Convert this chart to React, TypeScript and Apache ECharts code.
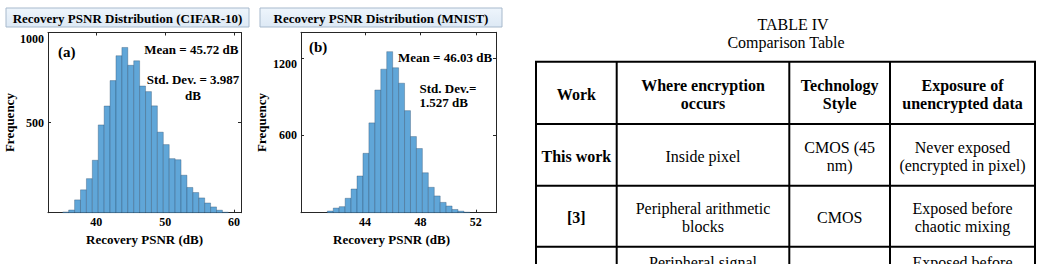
import React, { useEffect, useRef } from "react";
import * as echarts from "echarts";

// ---------- data ----------
const cifarTitle = "Recovery PSNR Distribution (CIFAR-10)";
const mnistTitle = "Recovery PSNR Distribution (MNIST)";
const xAxisName = "Recovery PSNR (dB)";
const yAxisName = "Frequency";

const cifarBinStart = 35.14;
const cifarBinWidth = 0.858;
const cifarCounts = [4, 15, 71, 127, 189, 291, 487, 592, 733, 871, 917, 818, 843, 703, 672, 593, 447, 378, 300, 294, 208, 140, 112, 82, 54, 32, 14, 3];
const cifarXTicks = [40, 50, 60];
const cifarYTicks = [500, 1000];
const cifarXRange = [33, 61];
const cifarYRange = [0, 1000];
const cifarNotes = ["(a)", "Mean = 45.72 dB", "Std. Dev. = 3.987\ndB"];

const mnistBinStart = 41.28;
const mnistBinWidth = 0.429;
const mnistCounts = [13, 36, 47, 112, 184, 285, 461, 697, 952, 1114, 1250, 1125, 1005, 792, 591, 498, 310, 197, 130, 80, 52, 25, 12, 4];
const mnistXTicks = [44, 48, 52];
const mnistYTicks = [600, 1200];
const mnistXRange = [39.38, 53.46];
const mnistYRange = [0, 1400];
const mnistNotes = ["(b)", "Mean = 46.03 dB", "Std. Dev.=\n1.527 dB"];

const tableTitle = ["TABLE IV", "Comparison Table"];
const tableHeader = ["Work", "Where encryption\noccurs", "Technology\nStyle", "Exposure of\nunencrypted data"];
const tableRows = [
  ["This work", "Inside pixel", "CMOS (45\nnm)", "Never exposed\n(encrypted in pixel)"],
  ["[3]", "Peripheral arithmetic\nblocks", "CMOS", "Exposed before\nchaotic mixing"],
];
const tablePartialRow = ["", "Peripheral signal", "", "Exposed before"];

// ---------- styles ----------
const FONT = "Liberation Serif";
const AXIS = "#262626";
const BAR_FILL = "rgb(96,166,216)";
const BAR_EDGE = "rgba(35,65,95,0.55)";

function bins(start: number, width: number, counts: number[]) {
  return counts.map((c, i) => [start + i * width, start + (i + 1) * width, c]);
}

function renderBar(_params: any, api: any) {
  const p0 = api.coord([api.value(0), api.value(2)]);
  const p1 = api.coord([api.value(1), 0]);
  return {
    type: "rect",
    shape: { x: p0[0], y: p0[1], width: p1[0] - p0[0], height: p1[1] - p0[1] },
    style: { fill: BAR_FILL, stroke: BAR_EDGE, lineWidth: 0.6 },
  };
}

const labelStyle = { fontFamily: FONT, fontSize: 12, fontWeight: "bold", color: "#000" };
const nameStyle = { fontFamily: FONT, fontSize: 13, fontWeight: "bold", color: "#000" };
const plain = (v: number) => String(v);

function xAxes(grid: number, range: number[], ticks: number[], namePad: number[]) {
  const line = { show: true, onZero: false, lineStyle: { color: AXIS, width: 1 } };
  return [
    {
      type: "value", gridIndex: grid, position: "bottom", min: range[0], max: range[1],
      splitLine: { show: false }, axisLine: line,
      axisTick: { show: true, inside: true, length: 3, customValues: ticks, lineStyle: { color: AXIS } },
      axisLabel: { ...labelStyle, margin: 3, customValues: ticks, formatter: plain },
      name: xAxisName, nameLocation: "middle", nameGap: 20,
      nameTextStyle: { ...nameStyle, padding: namePad },
    },
    {
      type: "value", gridIndex: grid, position: "top", min: range[0], max: range[1],
      splitLine: { show: false }, axisLine: line,
      axisTick: { show: true, inside: true, length: 3, customValues: ticks, lineStyle: { color: AXIS } },
      axisLabel: { show: false },
    },
  ];
}

function yAxes(grid: number, range: number[], ticks: number[], gap: number) {
  const line = { show: true, onZero: false, lineStyle: { color: AXIS, width: 1 } };
  return [
    {
      type: "value", gridIndex: grid, position: "left", min: range[0], max: range[1],
      splitLine: { show: false }, axisLine: line,
      axisTick: { show: true, inside: true, length: 3, customValues: ticks, lineStyle: { color: AXIS } },
      axisLabel: { ...labelStyle, margin: 4, customValues: ticks, formatter: plain, verticalAlignMaxLabel: "top" },
      name: yAxisName, nameLocation: "middle", nameGap: gap, nameRotate: 90,
      nameTextStyle: nameStyle,
    },
    {
      type: "value", gridIndex: grid, position: "right", min: range[0], max: range[1],
      splitLine: { show: false }, axisLine: line,
      axisTick: { show: true, inside: true, length: 3, customValues: ticks, lineStyle: { color: AXIS } },
      axisLabel: { show: false },
    },
  ];
}

function txt(x: number, y: number, text: string, o: any = {}) {
  return {
    type: "text", x, y, silent: true,
    style: {
      text, fontFamily: FONT, fontSize: o.size ?? 13, fontWeight: o.weight ?? "bold",
      fill: "#000", align: o.align ?? "left", verticalAlign: "middle", lineHeight: o.lh ?? 16,
    },
  };
}

function titleBox(x: number, w: number, text: string) {
  return [
    {
      type: "rect", shape: { x, y: 8, width: w, height: 19 }, silent: true,
      style: {
        fill: new echarts.graphic.LinearGradient(0, 0, 0, 1, [
          { offset: 0, color: "#eef5fc" },
          { offset: 1, color: "#dde9f5" },
        ]),
        stroke: "#a7b9cc", lineWidth: 1,
      },
    },
    txt(x + w / 2, 18, text, { align: "center" }),
  ];
}

function tableGraphics() {
  const cols = [536, 616.7, 789.3, 890, 1035];
  const rows = [61.7, 124, 185.7, 246.7];
  const els: any[] = [];
  const cx = (i: number) => (cols[i] + cols[i + 1]) / 2;
  els.push(txt(793, 24, tableTitle[0], { weight: "normal", size: 16, align: "center" }));
  els.push(txt(786, 42.5, tableTitle[1], { weight: "normal", size: 16, align: "center" }));
  tableHeader.forEach((t, i) => {
    els.push(txt(cx(i), (rows[0] + rows[1]) / 2 + 1.3, t, { size: 16, align: "center", lh: 18 }));
  });
  tableRows.forEach((r, ri) => {
    r.forEach((t, i) => {
      els.push(txt(cx(i), (rows[ri + 1] + rows[ri + 2]) / 2 + 1.3, t, {
        size: 16, align: "center", lh: 18, weight: i === 0 ? "bold" : "normal",
      }));
    });
  });
  tablePartialRow.forEach((t, i) => {
    if (t) els.push(txt(cx(i), 262, t, { size: 16, align: "center", weight: "normal" }));
  });
  rows.forEach((y) => {
    els.push({ type: "line", silent: true, shape: { x1: cols[0] - 1, y1: y, x2: cols[4] + 1, y2: y }, style: { stroke: "#000", lineWidth: 2 } });
  });
  cols.forEach((x) => {
    els.push({ type: "line", silent: true, shape: { x1: x, y1: rows[0], x2: x, y2: 270 }, style: { stroke: "#000", lineWidth: 2 } });
  });
  return els;
}

export default function App() {
  const ref = useRef<HTMLDivElement>(null);
  useEffect(() => {
    if (!ref.current) return;
    const chart = echarts.init(ref.current, undefined, { renderer: "svg" });
    const option: any = {
      animation: false,
      backgroundColor: "#ffffff",
      textStyle: { fontFamily: FONT },
      grid: [
        { left: 48, top: 32.5, width: 193, height: 180.2 },
        { left: 301, top: 32.3, width: 195, height: 180.4 },
      ],
      xAxis: [
        ...xAxes(0, cifarXRange, cifarXTicks, [0, 0, 0, 0]),
        ...xAxes(1, mnistXRange, mnistXTicks, [0, 14, 0, 0]),
      ],
      yAxis: [
        ...yAxes(0, cifarYRange, cifarYTicks, 32),
        ...yAxes(1, mnistYRange, mnistYTicks, 33),
      ],
      series: [
        {
          type: "custom", xAxisIndex: 0, yAxisIndex: 0, renderItem: renderBar,
          encode: { x: [0, 1], y: 2 }, data: bins(cifarBinStart, cifarBinWidth, cifarCounts),
        },
        {
          type: "custom", xAxisIndex: 2, yAxisIndex: 2, renderItem: renderBar,
          encode: { x: [0, 1], y: 2 }, data: bins(mnistBinStart, mnistBinWidth, mnistCounts),
        },
      ],
      graphic: [
        ...titleBox(6, 243, cifarTitle),
        ...titleBox(260, 242, mnistTitle),
        txt(58, 51.5, cifarNotes[0], { size: 15 }),
        txt(144.3, 49.3, cifarNotes[1]),
        txt(193, 87, cifarNotes[2], { align: "center", lh: 16 }),
        txt(309, 46.7, mnistNotes[0], { size: 15 }),
        txt(398, 57.3, mnistNotes[1]),
        txt(419.5, 95.5, mnistNotes[2], { lh: 14.5 }),
        ...tableGraphics(),
      ],
    };
    chart.setOption(option);
    return () => chart.dispose();
  }, []);
  return (
    <div
      ref={ref}
      style={{ position: "absolute", left: 0, top: 0, width: 1041, height: 264, background: "#fff" }}
    />
  );
}
